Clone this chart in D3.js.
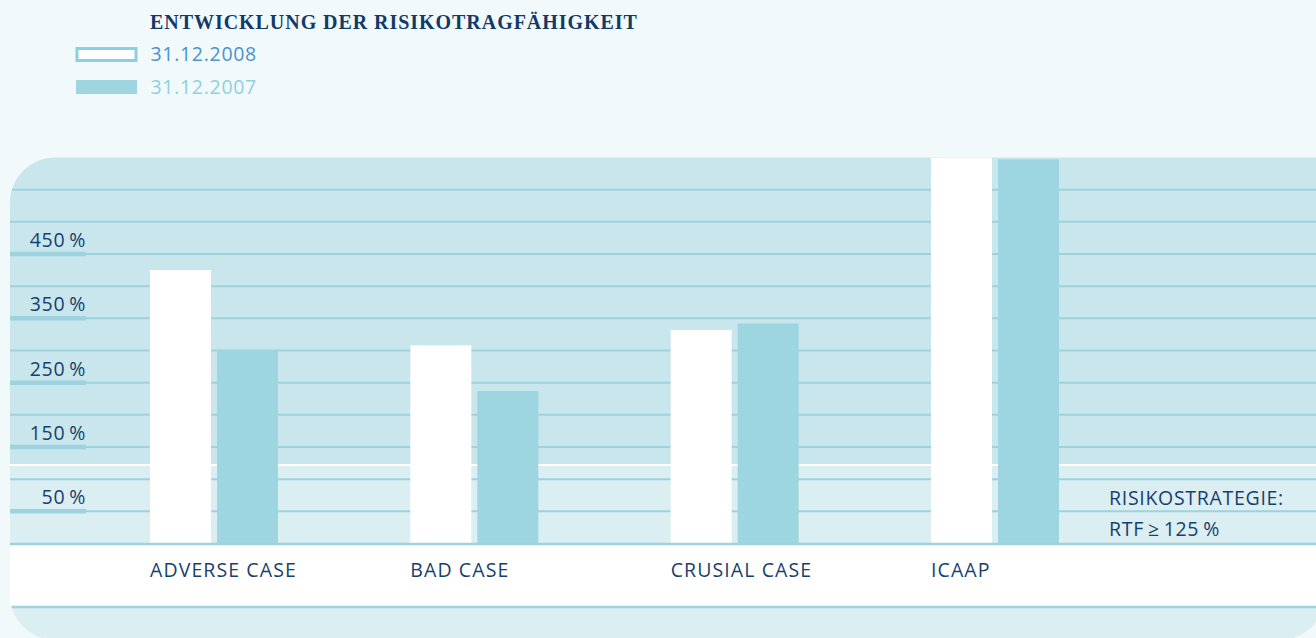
<!DOCTYPE html>
<html>
<head>
<meta charset="utf-8">
<script src="https://cdn.jsdelivr.net/npm/d3@7"></script>
<style>
  html, body { margin: 0; padding: 0; background: #f2f9fb; }
  svg { display: block; }
  .lbl { font-family: 'Open Sans', sans-serif; font-size: 19.5px; fill: #183f6d; letter-spacing: 0.7px; }
  .cat { letter-spacing: 1.1px; }
</style>
</head>
<body>
<div id="chart"></div>
<script>
// ---- Data -------------------------------------------------------------
const categories = ['ADVERSE CASE', 'BAD CASE', 'CRUSIAL CASE', 'ICAAP'];
const series = ['31.12.2008', '31.12.2007'];
const values2008 = [425, 308, 332, 600];
const values2007 = [300, 237, 342, 597];
const gridTicks = [50, 100, 150, 200, 250, 300, 350, 400, 450, 500, 550];
const labelTicks = [50, 150, 250, 350, 450];
const threshold = 122; // white line of the risk strategy band
const strategyText = ['RISIKOSTRATEGIE:', 'RTF\u2009\u2265\u2009125\u2009%'];

const data = categories.map((c, i) => ({
  cat: c,
  vals: [{ s: series[0], v: values2008[i] }, { s: series[1], v: values2007[i] }]
}));

// ---- Dimensions -------------------------------------------------------
const W = 1316, H = 638;
const panel = { left: 10, top: 157.5, right: 1325, bottom: 640, r: 45 };
const base = 543.5;      // 0 %
const bandBottom = 607;  // lower edge of white label band

const colors = {
  upper: '#c8e6eb', lower: '#dbeef2', grid: '#9dd3df',
  bar2008: '#ffffff', bar2007: '#9dd5e0', navy: '#163e6c'
};

const svg = d3.select('#chart').append('svg')
  .attr('width', W).attr('height', H);

// ---- Scales -----------------------------------------------------------
const y = d3.scaleLinear().domain([0, 600]).range([base, panel.top]);
const x0 = d3.scaleBand().domain(categories)
  .range([150, 1059]).paddingInner(0.5083).paddingOuter(0);
const x1 = d3.scaleBand().domain(series)
  .range([0, x0.bandwidth()]).paddingInner(0.09);
const fill = d3.scaleOrdinal().domain(series).range([colors.bar2008, colors.bar2007]);

// ---- Panel shape ------------------------------------------------------
const p = panel;
const panelPath = `M${p.left},${p.top + p.r} A${p.r},${p.r} 0 0 1 ${p.left + p.r},${p.top}
  L${p.right},${p.top} L${p.right},${p.bottom - p.r}
  A${p.r},${p.r} 0 0 1 ${p.right - p.r},${p.bottom} L${p.left + p.r},${p.bottom}
  A${p.r},${p.r} 0 0 1 ${p.left},${p.bottom - p.r} Z`;

svg.append('clipPath').attr('id', 'panel-clip').append('path').attr('d', panelPath);

const pg = svg.append('g').attr('clip-path', 'url(#panel-clip)');

pg.append('rect').attr('x', 0).attr('y', 0).attr('width', W + 20).attr('height', y(threshold))
  .attr('fill', colors.upper);
pg.append('rect').attr('x', 0).attr('y', y(threshold)).attr('width', W + 20)
  .attr('height', base - y(threshold)).attr('fill', colors.lower);
pg.append('rect').attr('x', 0).attr('y', base).attr('width', W + 20)
  .attr('height', bandBottom - base).attr('fill', '#ffffff');
pg.append('rect').attr('x', 0).attr('y', bandBottom).attr('width', W + 20)
  .attr('height', H + 20 - bandBottom).attr('fill', colors.lower);

// grid lines
pg.append('g').selectAll('line')
  .data(gridTicks)
  .join('line')
  .attr('x1', 0).attr('x2', W + 20)
  .attr('y1', d => y(d)).attr('y2', d => y(d))
  .attr('stroke', colors.grid).attr('stroke-width', 2);

// white risk strategy line
pg.append('line')
  .attr('x1', 0).attr('x2', W + 20)
  .attr('y1', y(threshold)).attr('y2', y(threshold))
  .attr('stroke', '#ffffff').attr('stroke-width', 2);

// thick tick segments under labels
pg.append('g').selectAll('line')
  .data(labelTicks)
  .join('line')
  .attr('x1', 0).attr('x2', 86)
  .attr('y1', d => y(d)).attr('y2', d => y(d))
  .attr('stroke', colors.grid).attr('stroke-width', 4.5);

// ---- Bars -------------------------------------------------------------
pg.append('g').selectAll('g')
  .data(data)
  .join('g')
  .attr('transform', d => `translate(${x0(d.cat)},0)`)
  .selectAll('rect')
  .data(d => d.vals)
  .join('rect')
  .attr('x', d => x1(d.s))
  .attr('width', x1.bandwidth())
  .attr('y', d => y(d.v))
  .attr('height', d => base - y(d.v))
  .attr('fill', d => fill(d.s));

// baseline + bottom band line
pg.append('line').attr('x1', 0).attr('x2', W + 20)
  .attr('y1', base + 0.5).attr('y2', base + 0.5)
  .attr('stroke', colors.grid).attr('stroke-width', 2.5);
pg.append('line').attr('x1', 0).attr('x2', W + 20)
  .attr('y1', bandBottom).attr('y2', bandBottom)
  .attr('stroke', colors.grid).attr('stroke-width', 2.5);

// ---- Axes -------------------------------------------------------------
const yAxis = d3.axisLeft(y)
  .tickValues(labelTicks)
  .tickSize(0)
  .tickFormat(d => `${d}\u2009%`);

const yAxisGroup = svg.append('g')
  .attr('transform', 'translate(86,0)')
  .call(yAxis);
yAxisGroup.select('.domain').remove();
yAxisGroup.selectAll('text')
  .attr('class', 'lbl')
  .attr('x', 0)
  .attr('dy', -7.5)
  .attr('font-size', null)
  .attr('font-family', null)
  .attr('fill', null);

svg.append('g').selectAll('text')
  .data(categories)
  .join('text')
  .attr('class', 'lbl cat')
  .attr('x', d => x0(d))
  .attr('y', 577)
  .text(d => d);

svg.append('g').selectAll('text')
  .data(strategyText)
  .join('text')
  .attr('class', 'lbl')
  .attr('x', 1109)
  .attr('y', (d, i) => 504.5 + i * 31.5)
  .text(d => d);

// ---- Title & legend ---------------------------------------------------
svg.append('text')
  .attr('x', 150).attr('y', 29)
  .attr('font-family', "'Liberation Serif', serif")
  .attr('font-weight', 'bold')
  .attr('font-size', 20)
  .attr('letter-spacing', 0.95)
  .attr('fill', '#123a68')
  .text('ENTWICKLUNG DER RISIKOTRAGFÄHIGKEIT');

const legendTextColors = ['#4b93c9', '#8fd0df'];
const legend = svg.append('g').selectAll('g')
  .data(series)
  .join('g')
  .attr('transform', (d, i) => `translate(0,${i * 33})`);

legend.append('rect')
  .attr('x', d => d === series[0] ? 77 : 76)
  .attr('y', d => d === series[0] ? 48.5 : 80)
  .attr('width', d => d === series[0] ? 59 : 61)
  .attr('height', d => d === series[0] ? 12 : 14)
  .attr('fill', d => fill(d))
  .attr('stroke', d => d === series[0] ? '#8dd0dd' : 'none')
  .attr('stroke-width', 3)
  .attr('transform', (d, i) => `translate(0,${-i * 33})`);

legend.append('text')
  .attr('class', 'lbl')
  .attr('x', 150.5)
  .attr('y', 61)
  .style('fill', (d, i) => legendTextColors[i])
  .text(d => d);
</script>
</body>
</html>
